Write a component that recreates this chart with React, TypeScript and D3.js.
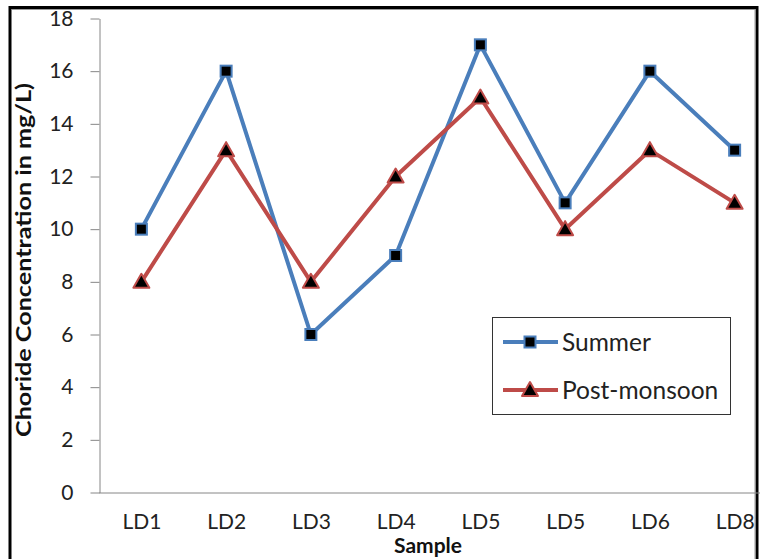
import React, { useEffect, useRef } from 'react';
import * as d3 from 'd3';

const categories = ['LD1', 'LD2', 'LD3', 'LD4', 'LD5', 'LD5', 'LD6', 'LD8'];
const summer = [10, 16, 6, 9, 17, 11, 16, 13];
const postMonsoon = [8, 13, 8, 12, 15, 10, 13, 11];
const yTicks = [0, 2, 4, 6, 8, 10, 12, 14, 16, 18];

const BLUE = '#4a7ebb';
const RED = '#be4b48';
const FONT = 'Lato, "Open Sans", sans-serif';

const App = () => {
    const svgRef = useRef<SVGSVGElement>(null);

    useEffect(() => {
        const svg = d3.select(svgRef.current)
            .attr('width', 760)
            .attr('height', 559)
            .style('position', 'absolute')
            .style('left', 0)
            .style('top', 0)
            .style('background', '#fff');

        svg.selectAll('*').remove();

        const xScale = d3.scalePoint<number>()
            .domain(categories.map((_, i) => i))
            .range([99, 777])
            .padding(0.5);

        const yScale = d3.scaleLinear()
            .domain([0, 18])
            .range([492.5, 18.5]);

        // outer frame (cropped chart area)
        svg.append('path')
            .attr('d', 'M10,559 V7.5 H757 V559')
            .attr('fill', 'none')
            .attr('stroke', '#000')
            .attr('stroke-width', 3);
        svg.append('path')
            .attr('d', 'M12,9.5 H755 V559')
            .attr('fill', 'none')
            .attr('stroke', '#9a9a9a')
            .attr('stroke-width', 1);

        // y axis
        const yAxis = svg.append('g')
            .attr('transform', 'translate(99.5,0)')
            .call(d3.axisLeft(yScale).tickValues(yTicks).tickSize(9).tickPadding(17).tickSizeOuter(0));
        yAxis.select('.domain').attr('stroke', '#868686');
        yAxis.selectAll('.tick line').attr('stroke', '#868686');
        yAxis.selectAll('.tick text')
            .attr('fill', '#222')
            .style('font-family', FONT)
            .style('font-size', '21px');

        // x axis
        const xAxis = svg.append('g')
            .attr('transform', 'translate(0,492.5)')
            .call(d3.axisBottom(xScale).tickSize(0).tickPadding(22).tickFormat((i) => categories[i as number]));
        xAxis.select('.domain').attr('stroke', '#868686').attr('d', 'M99,0.5H777');
        xAxis.selectAll('.tick text')
            .attr('fill', '#222')
            .style('font-family', FONT)
            .style('font-size', '21px');

        // axis titles
        svg.append('text')
            .attr('transform', 'translate(31,260) rotate(-90)')
            .attr('text-anchor', 'middle')
            .attr('textLength', 354)
            .attr('lengthAdjust', 'spacingAndGlyphs')
            .style('font-family', FONT)
            .style('font-weight', 'bold')
            .style('font-size', '20px')
            .attr('fill', '#111')
            .text('Choride Concentration in mg/L)');

        svg.append('text')
            .attr('x', 428)
            .attr('y', 553)
            .attr('text-anchor', 'middle')
            .style('font-family', FONT)
            .style('font-weight', 'bold')
            .style('font-size', '21px')
            .attr('fill', '#111')
            .text('Sample');

        const line = d3.line<number>()
            .x((_, i) => xScale(i) as number)
            .y((d) => yScale(d));

        const triangle = (cx: number, cy: number) =>
            `M${cx},${cy - 8}L${cx + 8},${cy + 6}L${cx - 8},${cy + 6}Z`;

        // summer series
        svg.append('path')
            .datum(summer)
            .attr('d', line)
            .attr('fill', 'none')
            .attr('stroke', BLUE)
            .attr('stroke-width', 4)
            .attr('stroke-linejoin', 'round');
        svg.selectAll('.sq')
            .data(summer)
            .enter()
            .append('rect')
            .attr('x', (_, i) => (xScale(i) as number) - 5.5)
            .attr('y', (d) => yScale(d) - 5.5)
            .attr('width', 11)
            .attr('height', 11)
            .attr('fill', '#000')
            .attr('stroke', BLUE)
            .attr('stroke-width', 2);

        // post-monsoon series
        svg.append('path')
            .datum(postMonsoon)
            .attr('d', line)
            .attr('fill', 'none')
            .attr('stroke', RED)
            .attr('stroke-width', 4)
            .attr('stroke-linejoin', 'round');
        svg.selectAll('.tri')
            .data(postMonsoon)
            .enter()
            .append('path')
            .attr('d', (d, i) => triangle(xScale(i) as number, yScale(d)))
            .attr('fill', '#000')
            .attr('stroke', RED)
            .attr('stroke-width', 2)
            .attr('stroke-linejoin', 'round');

        // legend
        const legend = svg.append('g');
        legend.append('rect')
            .attr('x', 492.5)
            .attr('y', 317.5)
            .attr('width', 238)
            .attr('height', 97)
            .attr('fill', '#fff')
            .attr('stroke', '#333')
            .attr('stroke-width', 1);

        const items = [
            { name: 'Summer', color: BLUE, y: 342 },
            { name: 'Post-monsoon', color: RED, y: 390 },
        ];
        items.forEach((it, k) => {
            legend.append('line')
                .attr('x1', 503).attr('x2', 558)
                .attr('y1', it.y).attr('y2', it.y)
                .attr('stroke', it.color)
                .attr('stroke-width', 4);
            if (k === 0) {
                legend.append('rect')
                    .attr('x', 524.5).attr('y', it.y - 5.5)
                    .attr('width', 11).attr('height', 11)
                    .attr('fill', '#000')
                    .attr('stroke', it.color)
                    .attr('stroke-width', 2);
            } else {
                legend.append('path')
                    .attr('d', triangle(530, it.y))
                    .attr('fill', '#000')
                    .attr('stroke', it.color)
                    .attr('stroke-width', 2)
                    .attr('stroke-linejoin', 'round');
            }
            legend.append('text')
                .attr('x', 562)
                .attr('y', it.y)
                .attr('dy', '0.36em')
                .style('font-family', FONT)
                .style('font-size', '24.5px')
                .attr('fill', '#222')
                .text(it.name);
        });
    }, []);

    return <svg ref={svgRef}></svg>;
};

export default App;
